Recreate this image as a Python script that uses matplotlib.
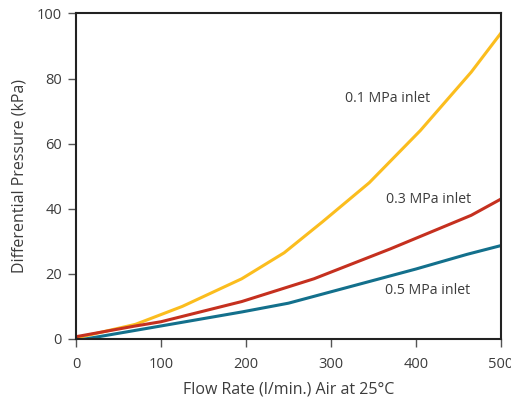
import matplotlib
matplotlib.use("Agg")
import matplotlib.pyplot as plt

# flow rate (l/min) vs differential pressure (kPa)
flow_01 = [0, 70, 125, 195, 245, 290, 345, 405, 465, 500]
dp_01 = [0.3, 4.5, 10, 18.5, 26.5, 36, 48, 64, 82, 94]

flow_03 = [0, 70, 100, 195, 280, 370, 465, 500]
dp_03 = [0.7, 4, 5.3, 11.5, 18.5, 27.7, 38, 43]

flow_05 = [0, 100, 195, 250, 300, 400, 460, 500]
dp_05 = [-0.5, 4, 8.3, 11, 14.5, 21.5, 26, 28.7]

labels = ["0.1 MPa inlet", "0.3 MPa inlet", "0.5 MPa inlet"]
x_ticks = [0, 100, 200, 300, 400, 500]
y_ticks = [0, 20, 40, 60, 80, 100]

plt.rcParams['font.family'] = ['Open Sans', 'DejaVu Sans']
text_col = '#3c3c3c'

fig = plt.figure(figsize=(5.11, 4.05), dpi=100)
ax = fig.add_axes([0.1487, 0.163, 0.8317, 0.8037])

ax.plot(flow_01, dp_01, color='#fbbd1e', lw=2.2)
ax.plot(flow_03, dp_03, color='#c5301f', lw=2.2)
ax.plot(flow_05, dp_05, color='#13708c', lw=2.2)

ax.text(366, 73.8, labels[0], ha='center', va='center', fontsize=10.2, color=text_col)
ax.text(415, 42.8, labels[1], ha='center', va='center', fontsize=10.2, color=text_col)
ax.text(414, 14.9, labels[2], ha='center', va='center', fontsize=10.2, color=text_col)

ax.set_xlim(0, 500)
ax.set_ylim(0, 100)
ax.set_xticks(x_ticks)
ax.set_yticks(y_ticks)
ax.tick_params(direction='out', length=6, width=1, colors='#555555',
               labelcolor=text_col, labelsize=10.5, pad=4)
ax.tick_params(axis='x', pad=7)
for s in ax.spines.values():
    s.set_color('#222222')
    s.set_linewidth(1.5)

ax.set_xlabel("Flow Rate (l/min.) Air at 25°C", fontsize=11.5, color=text_col, labelpad=7)
ax.set_ylabel("Differential Pressure (kPa)", fontsize=11.5, color=text_col, labelpad=7)

fig.savefig("out.png", dpi=100)
